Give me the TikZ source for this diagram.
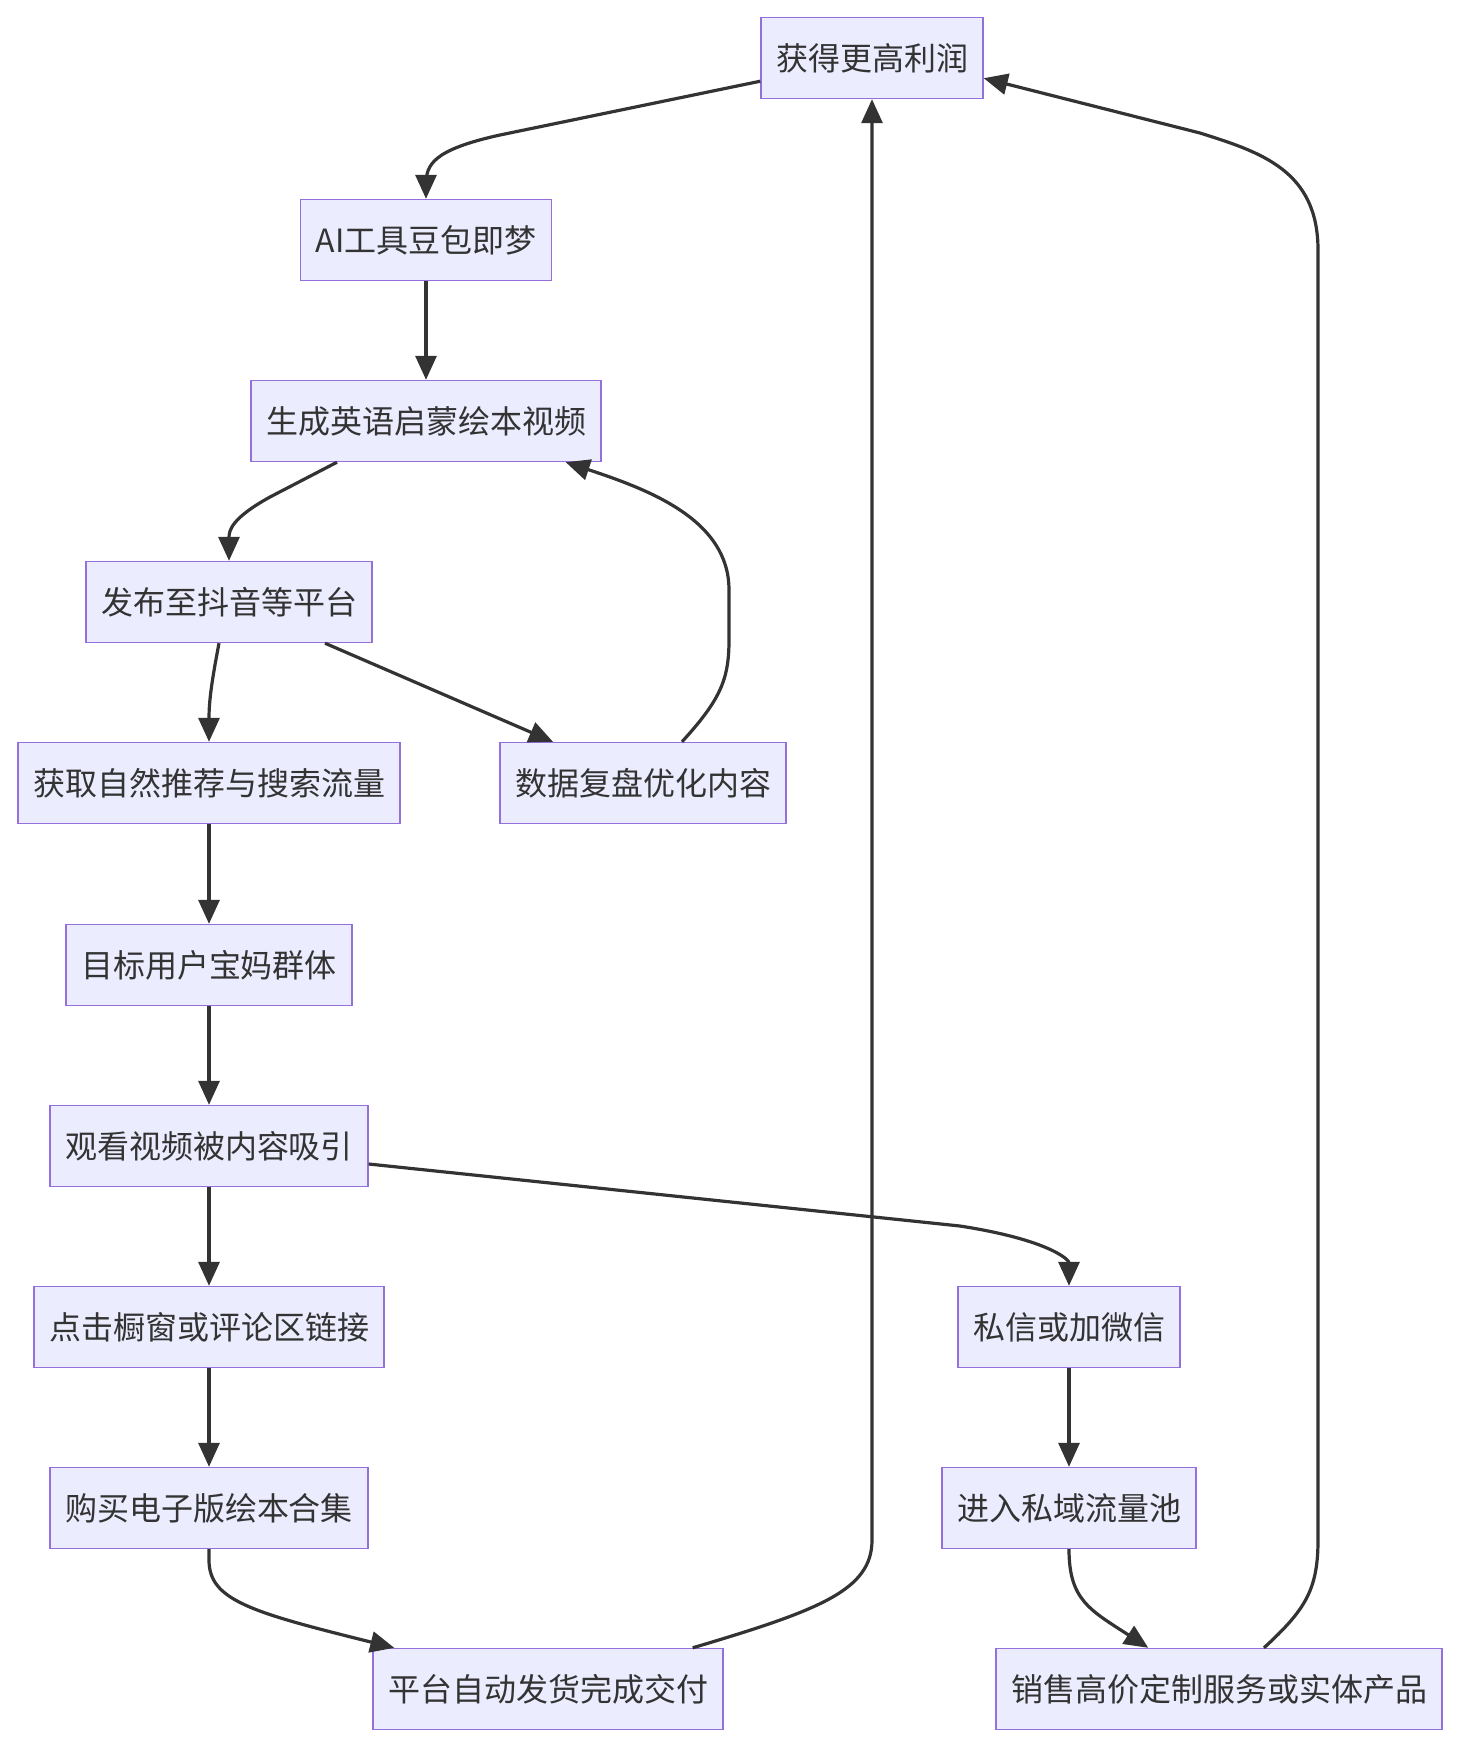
\documentclass[tikz,border=0pt]{standalone}
\usepackage{fontspec}
\setmainfont{Noto Sans CJK SC}
\usetikzlibrary{arrows.meta,calc}
\definecolor{boxfill}{HTML}{ECECFF}
\definecolor{boxline}{HTML}{9370DB}
\definecolor{ink}{HTML}{333333}
\tikzset{stage/.style={draw=boxline,fill=boxfill,line width=0.7pt,
  minimum height=40.5pt,inner xsep=7.5pt,text=ink,font=\fontsize{16}{19}\selectfont},
  flow/.style={-{Triangle[length=12pt,width=10.5pt]},line width=1.6pt,draw=ink}}

\begin{document}
\begin{tikzpicture}[x=0.5pt,y=-0.5pt]
\useasboundingbox (0,0) rectangle (1460,1746);
\node[stage] (profit) at (872,58) {获得更高利润};
\node[stage] (tool) at (426,240) {AI工具豆包即梦};
\node[stage] (video) at (426,421) {生成英语启蒙绘本视频};
\node[stage] (publish) at (229,602) {发布至抖音等平台};
\node[stage] (traffic) at (209,783) {获取自然推荐与搜索流量};
\node[stage] (review) at (643,783) {数据复盘优化内容};
\node[stage] (moms) at (209,965) {目标用户宝妈群体};
\node[stage] (watch) at (209,1146) {观看视频被内容吸引};
\node[stage] (click) at (209,1327) {点击橱窗或评论区链接};
\node[stage] (chat) at (1069,1327) {私信或加微信};
\node[stage] (buy) at (209,1508) {购买电子版绘本合集};
\node[stage] (pool) at (1069,1508) {进入私域流量池};
\node[stage] (ship) at (548,1689) {平台自动发货完成交付};
\node[stage] (sell) at (1219,1689) {销售高价定制服务或实体产品};
% content loop
\draw[flow] ([yshift=9pt]profit.south west) -- (500,135) .. controls (432,150) and (426,165) .. (426,185) -- (tool.north);
\draw[flow] (tool) -- (video);
\draw[flow] ([xshift=-44.5pt]video.south) -- (270,497) .. controls (232,518) and (229,530) .. (publish.north);
\draw[flow] ([xshift=-5pt]publish.south) .. controls (212,680) and (209,700) .. (traffic.north);
\draw[flow] ([xshift=48pt]publish.south) -- ([xshift=-45pt]review.north);
\draw[flow] ([xshift=19.5pt]review.north) .. controls (720,700) and (729,680) .. (729,640) -- (729,590) .. controls (729,520) and (650,490) .. ([xshift=-18pt]video.south east);
% users
\draw[flow] (traffic) -- (moms);
\draw[flow] (moms) -- (watch);
\draw[flow] (watch) -- (click);
\draw[flow] ([yshift=-9pt]watch.east) -- (960,1226) .. controls (1050,1240) and (1069,1260) .. (chat.north);
\draw[flow] (click) -- (buy);
\draw[flow] (chat) -- (pool);
\draw[flow] (buy.south) -- (209,1560) .. controls (209,1600) and (250,1612) .. ([xshift=11pt]ship.north west);
\draw[flow] (pool.south) .. controls (1069,1600) and (1090,1610) .. ([xshift=76.5pt]sell.north west);
% back to profit
\draw[flow] ([xshift=-15.5pt]ship.north east) .. controls (820,1610) and (872,1590) .. (872,1540) -- (profit.south);
\draw[flow] ([xshift=22.5pt]sell.north) .. controls (1305,1610) and (1318,1590) .. (1318,1540) -- (1318,250) .. controls (1318,170) and (1260,152) .. (1200,133) -- ([yshift=10.5pt]profit.south east);
\end{tikzpicture}
\end{document}
